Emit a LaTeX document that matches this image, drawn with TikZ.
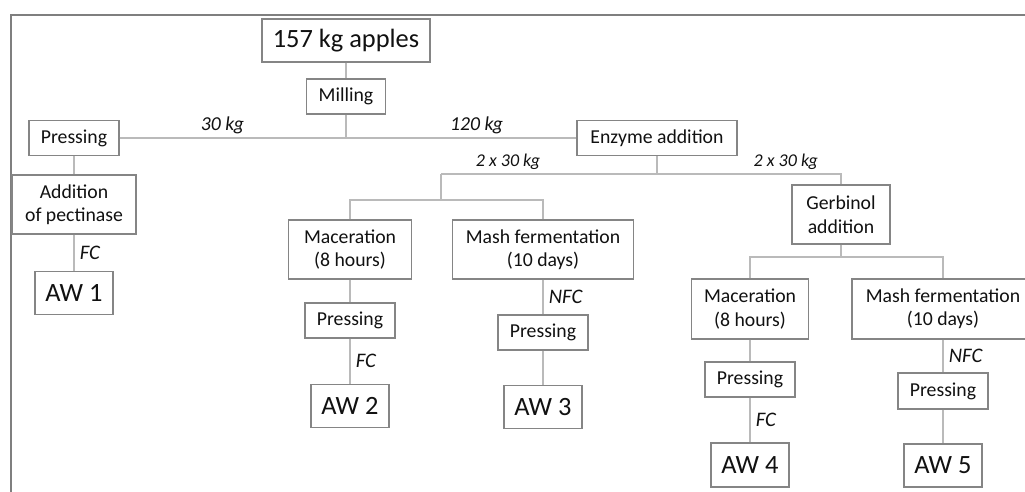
\documentclass[tikz,border=0pt]{standalone}
\usepackage{fontspec}
\setmainfont{Carlito}
\usepackage{xcolor}
\usepackage{tikz}
\usetikzlibrary{positioning}
\definecolor{CiderFrame}{HTML}{7F7F7F}
\definecolor{CiderBox}{HTML}{858585}
\definecolor{CiderLink}{HTML}{BABABA}
\definecolor{CiderText}{HTML}{111111}
\tikzset{
  cdbox/.style={
    draw=CiderBox,
    line width=1.1pt,
    fill=white,
    text=CiderText,
    align=center,
    inner sep=0pt,
    font=\fontsize{14.8}{17.6}\selectfont
  },
  cdtall/.style={cdbox, minimum height=44.25pt},
  cdpress/.style={cdbox, minimum width=67.5pt, minimum height=26.25pt},
  cdwine/.style={cdbox, minimum width=58.5pt, minimum height=32.25pt, font=\fontsize{19.8}{23}\selectfont},
  cdlink/.style={draw=CiderLink, line width=0.8pt},
  cdqty/.style={font=\itshape\fontsize{14.8}{17}\selectfont, text=CiderText, inner sep=3pt},
  cdcode/.style={font=\itshape\fontsize{15.5}{17}\selectfont, text=CiderText, inner sep=4pt},
  cdsplit/.style={font=\itshape\fontsize{13.5}{15}\selectfont, text=CiderText, inner sep=3pt}
}
\begin{document}
\begin{tikzpicture}[x=0.75pt, y=-0.75pt]
  \useasboundingbox (0,0) rectangle (1025,492);
  \clip (0,0) rectangle (1025,492);
  \draw[CiderFrame, line width=1.5pt] (1040,15) -| (11,510);

  \node[cdbox, minimum width=126pt, minimum height=32.25pt, font=\fontsize{19.8}{23}\selectfont] (apples) at (346,40.5) {157 kg apples};
  \node[cdbox, minimum width=59.25pt, minimum height=26.25pt] (mill) at (346,96.5) {Milling};
  \node[cdpress] (press0) at (74,138) {Pressing};
  \node[cdbox, minimum width=120pt, minimum height=26.25pt] (enzyme) at (657,138) {Enzyme addition};
  \node[cdtall, minimum width=93pt] (pectin) at (74,204.5) {Addition\\of pectinase};
  \node[cdwine] (aw1) at (74,293) {AW 1};

  \node[cdtall, minimum width=92.25pt] (mac1) at (350,249.5) {Maceration\\(8 hours)};
  \node[cdtall, minimum width=135.75pt] (mash1) at (543,249.5) {Mash fermentation\\(10 days)};
  \node[cdpress] (press2) at (350,320.5) {Pressing};
  \node[cdwine] (aw2) at (350,406) {AW 2};
  \node[cdpress] (press3) at (543,332.5) {Pressing};
  \node[cdwine] (aw3) at (543,407) {AW 3};

  \node[cdtall, minimum width=73.5pt] (gerb) at (841,214.5) {Gerbinol\\addition};
  \node[cdtall, minimum width=87.75pt, minimum height=45pt] (mac2) at (750,309) {Maceration\\(8 hours)};
  \node[cdtall, minimum width=136.5pt, minimum height=45pt] (mash2) at (943,309) {Mash fermentation\\(10 days)};
  \node[cdpress] (press4) at (750,379.5) {Pressing};
  \node[cdwine, minimum height=33pt] (aw4) at (750,465) {AW 4};
  \node[cdpress, minimum height=27pt] (press5) at (943,391) {Pressing};
  \node[cdwine] (aw5) at (943,465.5) {AW 5};

  \coordinate (mj) at (346,138);
  \coordinate (ej) at (657,174);
  \coordinate (el) at (441,174);
  \coordinate (lj) at (441,200);
  \coordinate (gj) at (841,257);

  \draw[cdlink] (apples) -- (mill);
  \draw[cdlink] (mill) -- (mj);
  \draw[cdlink] (press0) -- node[cdqty, above, pos=0.454]{30 kg} (mj)
    -- node[cdqty, above, pos=0.567]{120 kg} (enzyme);
  \draw[cdlink] (press0) -- (pectin);
  \draw[cdlink] (pectin) -- node[cdcode, right]{FC} (aw1);

  \draw[cdlink] (enzyme) -- (ej);
  \draw[cdlink] (el) -- node[cdsplit, above, pos=0.31]{2 x 30 kg} (ej);
  \draw[cdlink] (ej) -- node[cdsplit, above, pos=0.70]{2 x 30 kg} (ej -| gerb) -- (gerb);
  \draw[cdlink] (el) -- (lj);
  \draw[cdlink] (mac1) |- (lj) -| (mash1);
  \draw[cdlink] (mac1) -- (press2);
  \draw[cdlink] (press2) -- node[cdcode, right]{FC} (aw2);
  \draw[cdlink] (mash1) -- node[cdcode, right]{NFC} (press3);
  \draw[cdlink] (press3) -- (aw3);

  \draw[cdlink] (gerb) -- (gj);
  \draw[cdlink] (mac2) |- (gj) -| (mash2);
  \draw[cdlink] (mac2) -- (press4);
  \draw[cdlink] (press4) -- node[cdcode, right]{FC} (aw4);
  \draw[cdlink] (mash2) -- node[cdcode, right]{NFC} (press5);
  \draw[cdlink] (press5) -- (aw5);
\end{tikzpicture}
\end{document}
